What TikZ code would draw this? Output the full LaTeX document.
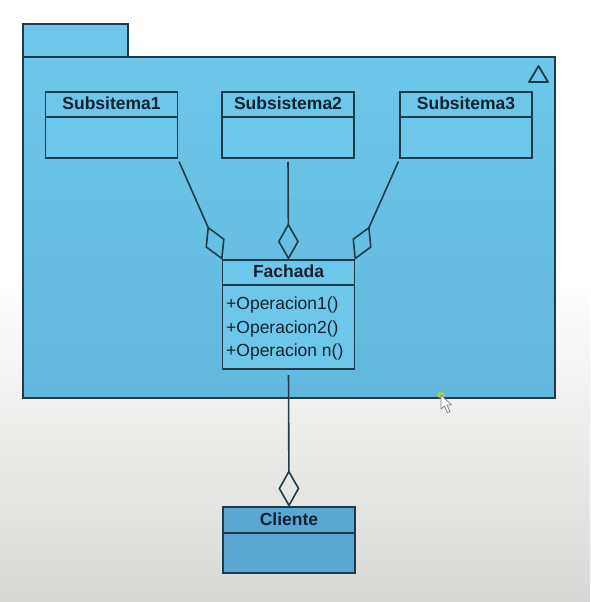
\documentclass[tikz,border=0pt]{standalone}
\usepackage{fontspec}
\setmainfont{Liberation Sans}
\usetikzlibrary{arrows.meta, calc}

\definecolor{pkgblue}{HTML}{6DC7EB}
\definecolor{pkgblueb}{HTML}{62B8DC}
\definecolor{cliblue}{HTML}{5AA8D1}
\definecolor{linecol}{HTML}{1E3A4B}
\definecolor{txtcol}{HTML}{14222F}
\definecolor{bggrey}{HTML}{D8D8D6}

\tikzset{
  classbox/.style={draw=linecol, fill=pkgblue, line width=1.7pt, inner sep=0pt, outer sep=0pt, minimum width=132pt, anchor=north},
  classname/.style={anchor=base, inner sep=0pt, text=txtcol, font=\bfseries\fontsize{17.5}{20}\selectfont},
  classop/.style={anchor=base west, inner sep=0pt, text=txtcol, font=\fontsize{17.5}{20}\selectfont},
  sepline/.style={draw=linecol, line width=1.7pt},
  aggr/.style={draw=linecol, line width=1.6pt, -{Diamond[open, length=37pt, width=21pt]}},
}

\begin{document}
\begin{tikzpicture}[x=1pt, y=-1pt]
\useasboundingbox (0,0) rectangle (590,602);

% background
\fill[white] (0,0) rectangle (590,602);
\shade[top color=white, bottom color=bggrey] (0,280) rectangle (590,602);

% package
\draw[draw=linecol, line width=2pt, fill=pkgblue] (23,57) rectangle (128,24);
\draw[draw=linecol, line width=2pt, top color=pkgblue, bottom color=pkgblueb] (23,57) rectangle (555,398);
\draw[draw=linecol, line width=1.8pt, line join=round] (529,82) -- (538.5,66) -- (548,82) -- cycle;

% subsystems
\node[classbox, minimum height=66pt] (sub1) at (111.5,92) {};
\draw[sepline] ([yshift=-25pt]sub1.north west) -- ([yshift=-25pt]sub1.north east);
\node[classname] (sub1name) at ([yshift=-17pt]sub1.north) {Subsitema1};

\node[classbox, minimum height=66pt] (sub2) at (288,92) {};
\draw[sepline] ([yshift=-25pt]sub2.north west) -- ([yshift=-25pt]sub2.north east);
\node[classname] (sub2name) at ([yshift=-17pt]sub2.north) {Subsistema2};

\node[classbox, minimum height=66pt] (sub3) at (466,92) {};
\draw[sepline] ([yshift=-25pt]sub3.north west) -- ([yshift=-25pt]sub3.north east);
\node[classname] (sub3name) at ([yshift=-17pt]sub3.north) {Subsitema3};

% facade
\node[classbox, minimum height=109pt] (fach) at (288.5,260) {};
\draw[sepline] ([yshift=-25pt]fach.north west) -- ([yshift=-25pt]fach.north east);
\node[classname] (fachname) at ([yshift=-17pt]fach.north) {Fachada};
\node[classop] (op1) at (226,309) {+Operacion1()};
\node[classop] (op2) at (226,333) {+Operacion2()};
\node[classop] (op3) at (226,356) {+Operacion n()};

% client
\node[classbox, fill=cliblue, minimum height=66pt] (cli) at (289,507) {};
\draw[sepline] ([yshift=-26pt]cli.north west) -- ([yshift=-26pt]cli.north east);
\node[classname] (cliname) at ([yshift=-18pt]cli.north) {Cliente};

% aggregations
\draw[aggr, shorten <=4pt] (sub1.south east) -- (fach.north west);
\draw[aggr, shorten <=4pt] (sub2.south) -- (fach.north);
\draw[aggr, shorten <=4pt] (sub3.south west) -- (fach.north east);
\draw[aggr, shorten <=6pt] (fach.south) -- (cli.north);

% mouse pointer
\fill[yellow!80!green, opacity=0.6] (441,395) circle (3.5);
\draw[gray, fill=white, line width=0.8pt, line join=round]
  (441,395) -- (441,409) -- (444.5,406) -- (447.5,412.5) -- (450,411.5) -- (447,405) -- (451.5,405) -- cycle;

\end{tikzpicture}
\end{document}
